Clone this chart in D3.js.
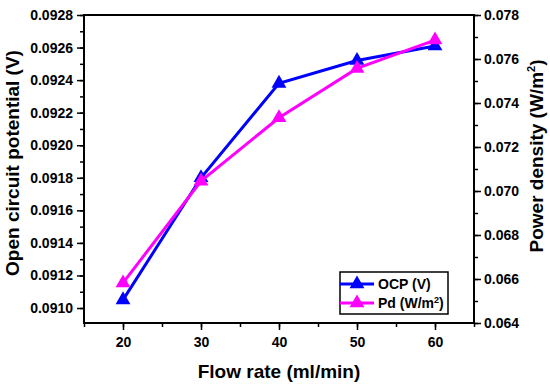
<!DOCTYPE html>
<html>
<head>
<meta charset="utf-8">
<script src="https://cdn.jsdelivr.net/npm/d3@7"></script>
<style>
  body { margin: 0; background: #fff; }
  text { font-family: "Liberation Sans", Arial, sans-serif; font-weight: bold; }
</style>
</head>
<body>
<svg id="chart"></svg>
<script>
const flowRates = [20, 30, 40, 50, 60];
const ocpValues = [0.09105, 0.0918, 0.09238, 0.09252, 0.09261];
const pdValues = [0.06582, 0.07045, 0.07333, 0.07557, 0.07686];
const leftTicks = [0.0910, 0.0912, 0.0914, 0.0916, 0.0918, 0.0920, 0.0922, 0.0924, 0.0926, 0.0928];
const rightTicks = [0.064, 0.066, 0.068, 0.070, 0.072, 0.074, 0.076, 0.078];
const xTicks = [20, 30, 40, 50, 60];

const W = 550, H = 388;
const margin = { top: 15, right: 76, bottom: 65, left: 84 };
const width = W - margin.left - margin.right;
const height = H - margin.top - margin.bottom;

const svg = d3.select("#chart").attr("width", W).attr("height", H);
const g = svg.append("g").attr("transform", `translate(${margin.left},${margin.top})`);

const x = d3.scaleLinear().domain([15, 65]).range([0, width]);
const yL = d3.scaleLinear().domain([0.090908, 0.0928]).range([height, 0]);
const yR = d3.scaleLinear().domain([0.064, 0.078]).range([height, 0]);

// minor ticks
const xMinor = d3.range(15, 66, 5);
const lMinor = d3.range(0, 19).map(i => 0.0910 + i * 0.0001);
const rMinor = d3.range(0, 15).map(i => 0.064 + i * 0.001);

g.append("g").attr("transform", `translate(0,${height})`)
  .call(d3.axisBottom(x).tickValues(xMinor).tickSize(4).tickFormat(""))
  .call(a => a.select(".domain").remove());
g.append("g")
  .call(d3.axisLeft(yL).tickValues(lMinor).tickSize(4).tickFormat(""))
  .call(a => a.select(".domain").remove());
g.append("g").attr("transform", `translate(${width},0)`)
  .call(d3.axisRight(yR).tickValues(rMinor).tickSize(4).tickFormat(""))
  .call(a => a.select(".domain").remove());

const xAxis = g.append("g").attr("transform", `translate(0,${height})`)
  .call(d3.axisBottom(x).tickValues(xTicks).tickSize(7).tickPadding(7).tickFormat(d3.format("d")));
const lAxis = g.append("g")
  .call(d3.axisLeft(yL).tickValues(leftTicks).tickSize(7).tickPadding(4).tickFormat(d3.format(".4f")));
const rAxis = g.append("g").attr("transform", `translate(${width},0)`)
  .call(d3.axisRight(yR).tickValues(rightTicks).tickSize(7).tickPadding(3).tickFormat(d3.format(".3f")));

[xAxis, lAxis, rAxis].forEach(a => {
  a.selectAll("text").attr("font-size", 14).attr("fill", "#000");
  a.select(".domain").remove();
});
svg.selectAll("g.tick line").attr("stroke-width", 1.5);

// frame
g.append("rect").attr("width", width).attr("height", height)
  .attr("fill", "none").attr("stroke", "#000").attr("stroke-width", 2);

const tri = d3.symbol().type(d3.symbolTriangle).size(95);

function series(vals, scale, color) {
  const line = d3.line().x((d, i) => x(flowRates[i])).y(d => scale(d));
  g.append("path").datum(vals).attr("d", line)
    .attr("fill", "none").attr("stroke", color).attr("stroke-width", 3);
  g.selectAll(null).data(vals).join("path")
    .attr("d", tri)
    .attr("transform", (d, i) => `translate(${x(flowRates[i])},${scale(d)})`)
    .attr("fill", color);
}
series(ocpValues, yL, "#0000ff");
series(pdValues, yR, "#ff00ff");

// legend
const leg = svg.append("g").attr("transform", "translate(340,272)");
leg.append("rect").attr("width", 108).attr("height", 42)
  .attr("fill", "#fff").attr("stroke", "#000").attr("stroke-width", 1.5);
const items = [
  { label: "OCP (V)", color: "#0000ff" },
  { label: "Pd (W/m²)", color: "#ff00ff" }
];
items.forEach((it, i) => {
  const yy = 12 + i * 19;
  leg.append("line").attr("x1", 0).attr("x2", 34).attr("y1", yy).attr("y2", yy)
    .attr("stroke", it.color).attr("stroke-width", 3);
  leg.append("path").attr("d", tri).attr("transform", `translate(17,${yy})`).attr("fill", it.color);
  const t = leg.append("text").attr("x", 38).attr("y", yy + 5).attr("font-size", 14);
  if (i === 0) t.text(it.label);
  else {
    t.append("tspan").text("Pd (W/m");
    t.append("tspan").attr("font-size", 9).attr("dy", -5).text("2");
    t.append("tspan").attr("dy", 5).text(")");
  }
});

// axis titles
svg.append("text").attr("x", margin.left + width / 2).attr("y", 378)
  .attr("text-anchor", "middle").attr("font-size", 19).text("Flow rate (ml/min)");
svg.append("text").attr("transform", `translate(19,163) rotate(-90)`)
  .attr("text-anchor", "middle").attr("font-size", 19).text("Open circuit potential (V)");
const rt = svg.append("text").attr("transform", `translate(543,156) rotate(-90)`)
  .attr("text-anchor", "middle").attr("font-size", 19);
rt.append("tspan").text("Power density (W/m");
rt.append("tspan").attr("font-size", 11).attr("dy", -8).text("2");
rt.append("tspan").attr("dy", 8).text(")");
</script>
</body>
</html>
